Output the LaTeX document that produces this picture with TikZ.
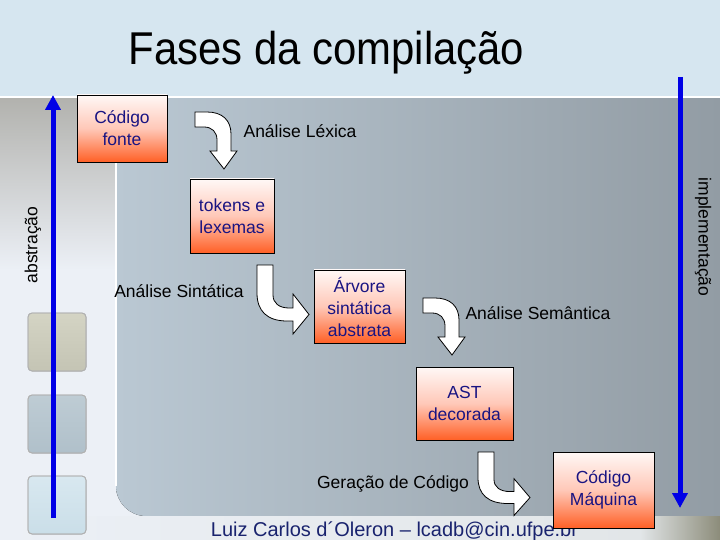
\documentclass[tikz,border=0pt]{standalone}
\usepackage{fontspec}
\setmainfont{Liberation Sans}
\newfontfamily\titlefont[FakeStretch=0.91]{Liberation Sans}
\usetikzlibrary{arrows.meta}
\definecolor{navy}{RGB}{25,20,130}
\definecolor{footblue}{RGB}{25,35,110}
\definecolor{abblue}{RGB}{0,0,230}
\definecolor{boxtop}{RGB}{255,248,246}
\definecolor{boxmid}{RGB}{255,200,184}
\definecolor{boxbot}{RGB}{255,96,38}
\definecolor{bandblue}{RGB}{214,230,240}
\definecolor{margin}{RGB}{236,240,246}
\definecolor{panelL}{RGB}{186,200,211}
\definecolor{panelR}{RGB}{146,156,164}
\tikzset{
    BX/.style ={rectangle,draw=black,line width=0.8bp,top color=boxtop,bottom color=boxbot,middle color=boxmid,
                text=navy,align=center,inner sep=0pt,font=\fontsize{17.5bp}{22bp}\selectfont},
    LB/.style ={text=black,inner sep=0pt,font=\fontsize{17.5bp}{22bp}\selectfont},
    AX/.style ={abblue,line width=5bp,-{Triangle[width=15bp,length=15bp]}},
    SQ/.style ={rounded corners=4bp,draw=gray!60,line width=0.8bp},
    BA/.style ={fill=white,draw=black,line width=0.8bp,line join=miter},
    bendown/.pic={
        \path[BA] (0,0) -- (12,0) .. controls (27,0) and (36,8) .. (36,22) -- (36,39) -- (42,39)
            -- (29,57) -- (15,39) -- (22,39) -- (22,28) .. controls (22,20) and (17,15) .. (9,15)
            -- (0,15) -- cycle;
    },
    benright/.pic={
        \path[BA] (0,0) -- (16,0) -- (16,30) .. controls (16,38) and (22,43) .. (32,43) -- (36,43)
            -- (36,29) -- (52,49.5) -- (36,69) -- (36,56) -- (30,56) .. controls (10,56) and (0,46) .. (0,28)
            -- cycle;
    }
}

\begin{document}
\begin{tikzpicture}[x=1bp,y=-1bp]
    \useasboundingbox (0,0) rectangle (720,540);
    % fundo do slide
    \fill[margin] (0,0) rectangle (720,540);
    \fill[bandblue] (0,0) rectangle (720,97);
    \fill[top color={rgb,255:red,178;green,178;blue,174},middle color={rgb,255:red,100;green,100;blue,96},
          bottom color=margin] (0,98) rectangle (116,270);
    \fill[left color=panelL,right color=panelR] (116,98) -- (720,98) -- (720,516) -- (146,516)
        .. controls (129.5,516) and (116,502.5) .. (116,486) -- cycle;
    \draw[white,line width=1.5bp] (116,162) -- (116,486);
    \draw[white,line width=2bp] (0,97) -- (720,97);
    \fill[left color=margin,right color={rgb,255:red,226;green,230;blue,232}] (0,516) rectangle (640,540);
    \fill[left color={rgb,255:red,226;green,230;blue,232},right color={rgb,255:red,140;green,140;blue,122}] (640,516) rectangle (720,540);
    \fill[SQ,top color={rgb,255:red,212;green,212;blue,196},bottom color={rgb,255:red,196;green,196;blue,180}] (28,313) rectangle (86,371);
    \fill[SQ,top color={rgb,255:red,190;green,204;blue,212},bottom color={rgb,255:red,176;green,192;blue,202}] (28,395) rectangle (86,453);
    \fill[SQ,top color={rgb,255:red,216;green,232;blue,240},bottom color={rgb,255:red,202;green,222;blue,232}] (28,476) rectangle (86,534);
    \draw[SQ] (28,313) rectangle (86,371);
    \draw[SQ] (28,395) rectangle (86,453);
    \draw[SQ] (28,476) rectangle (86,534);

    % titulo e rodape
    \node[anchor=base,inner sep=0pt,font=\titlefont\fontsize{46bp}{50bp}\selectfont] (titulo) at (326.5,65) {Fases da compilação};
    \node[anchor=base,inner sep=0pt,text=footblue,font=\fontsize{20bp}{22bp}\selectfont] (rodape) at (394.5,536)
        {Luiz Carlos d´Oleron – lcadb@cin.ufpe.br};

    % eixos
    \coordinate (abs0) at (53,518);
    \coordinate (abs1) at (53,95);
    \coordinate (imp0) at (680,77);
    \coordinate (imp1) at (680,508);
    \draw[AX] (abs0) -- (abs1);
    \draw[AX] (imp0) -- (imp1);
    \node[LB,rotate=90] (abstracao) at (33,245) {abstração};
    \node[LB,rotate=-90] (implementacao) at (703,237) {implementação};

    % fases
    \node[BX,minimum width=90bp,minimum height=67bp] (fonte) at (122,128.5) {Código\\fonte};
    \node[BX,minimum width=84bp,minimum height=74bp] (tokens) at (232,216) {tokens e\\lexemas};
    \node[BX,minimum width=91bp,minimum height=73bp] (arvore) at (359.5,306.5) {Árvore\\sintática\\abstrata};
    \node[BX,minimum width=97bp,minimum height=73bp] (ast) at (464.5,403.5) {AST\\decorada};
    \node[BX,minimum width=101bp,minimum height=76bp] (maquina) at (603.5,490) {Código\\Máquina};

    \node[LB] (lexica) at (300,131) {Análise Léxica};
    \node[LB] (sintatica) at (179,291) {Análise Sintática};
    \node[LB] (semantica) at (538,313) {Análise Semântica};
    \node[LB] (geracao) at (393,484) {Geração de Código};

    \pic at (195,112) {bendown};
    \pic at (257,265) {benright};
    \pic at (423,298) {bendown};
    \pic[yscale=0.92] at (478,452) {benright};
\end{tikzpicture}
\end{document}
